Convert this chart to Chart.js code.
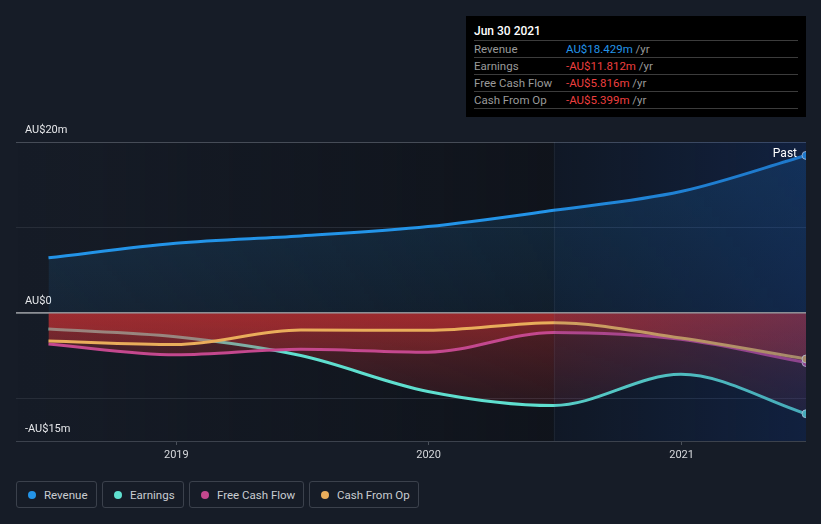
<!DOCTYPE html>
<html>
<head>
<meta charset="utf-8">
<script src="https://cdn.jsdelivr.net/npm/chart.js@4.4.1/dist/chart.umd.min.js"></script>
<style>
html,body{margin:0;padding:0;background:#161c27;width:821px;height:524px;overflow:hidden;font-family:Roboto,"Noto Sans",sans-serif;}
#wrap{position:absolute;left:0;top:0;width:821px;height:470px;}
#tip{position:absolute;left:466px;top:16px;width:340px;height:101px;background:#000;box-sizing:border-box;padding:0 8px;}
#tip .title{height:24px;box-sizing:border-box;padding-top:7px;line-height:16px;font-size:12px;color:#fff;font-weight:500;}
#tip .row{height:17px;box-sizing:border-box;border-top:1px solid #3c3c3c;line-height:16px;font-size:11.5px;display:flex;}
#tip .row:last-child{border-bottom:1px solid #3c3c3c;height:18px;}
#tip .lab{width:92px;color:#9a9a9a;}
#tip .val{white-space:pre;}
#tip .unit{color:#9a9a9a;}
#legend{position:absolute;left:0;top:481px;width:821px;height:27px;}
#legend .item{position:absolute;top:0;height:27px;box-sizing:border-box;border:1px solid #3b414c;border-radius:3px;display:flex;align-items:center;padding:0 0 0 11px;font-size:11.5px;color:#c9ccd1;white-space:nowrap;}
#legend .dot{width:8px;height:8px;border-radius:50%;margin-right:8px;display:inline-block;flex:none;}
</style>
</head>
<body>
<div id="wrap"><canvas id="c"></canvas></div>
<div id="tip"></div>
<div id="legend"></div>
<script>
// ---- data (values in AU$ millions) ----
const periods = ['2018-06-30','2018-12-31','2019-06-30','2019-12-31','2020-06-30','2020-12-31','2021-06-30'];
const revenue      = [6.45, 8.15, 9.0, 10.1, 12.0, 14.2, 18.429];
const earnings     = [-1.9, -2.8, -5.0, -9.2, -10.85, -7.2, -11.812];
const freeCashFlow = [-3.65, -4.9, -4.25, -4.6, -2.3, -3.1, -5.816];
const cashFromOp   = [-3.3, -3.7, -2.0, -2.05, -1.15, -2.95, -5.399];
const seriesNames  = ['Revenue','Earnings','Free Cash Flow','Cash From Op'];
const yTickValues  = [-15, -10, 0, 10, 20];
const yTickLabels  = {'20':'AU$20m','0':'AU$0','-15':'-AU$15m'};
const xTickYears   = ['2019','2020','2021'];
const highlightStart = '2020-06-30';
const tooltipTitle = 'Jun 30 2021';
const pastLabel = 'Past';

// ---- styling ----
const colors = ['#2394e8','#5fdfcf','#c4488e','#e9ad5b'];
const legendBoxes = [[16,81],[102,82],[189,115],[309,110]];
const DAY = 86400000;
const t = s => Date.parse(s + 'T00:00:00Z');
const xs = periods.map(t);
const pts = arr => arr.map((v,i)=>({x:xs[i], y:v}));
const last = xs.length - 1;

function redFill(ctx){
  const ch = ctx.chart; const a = ch.chartArea; if(!a) return 'rgba(0,0,0,0)';
  const y = ch.scales.y;
  const g = ch.ctx.createLinearGradient(0, y.getPixelForValue(0), 0, y.getPixelForValue(-15));
  g.addColorStop(0,'rgba(205,50,52,0.36)');
  g.addColorStop(1,'rgba(205,50,52,0.04)');
  return g;
}
function blueFill(ctx){
  const ch = ctx.chart; const a = ch.chartArea; if(!a) return 'rgba(0,0,0,0)';
  const y = ch.scales.y;
  const g = ch.ctx.createLinearGradient(0, y.getPixelForValue(20), 0, y.getPixelForValue(0));
  g.addColorStop(0,'rgba(35,148,232,0.20)');
  g.addColorStop(1,'rgba(35,148,232,0.08)');
  return g;
}
const endRadius = ctx => ctx.dataIndex === last ? 4 : 0;

function ds(label, data, color, fillFn, order){
  return {label, data: pts(data), borderColor: color, backgroundColor: fillFn, fill: 'origin',
    borderWidth: 3, cubicInterpolationMode: 'monotone', order,
    pointRadius: endRadius, pointHoverRadius: endRadius, pointBackgroundColor: color,
    pointBorderColor: 'rgba(255,255,255,0.75)', pointBorderWidth: 1};
}

const bgPlugin = {
  id: 'bgPlugin',
  beforeDraw(chart){
    const {ctx, chartArea:a, scales:{x}} = chart;
    const hx = x.getPixelForValue(t(highlightStart));
    ctx.save();
    const g = ctx.createLinearGradient(a.left,0,hx,0);
    g.addColorStop(0,'rgba(8,10,14,0.0)');
    g.addColorStop(1,'rgba(8,10,14,0.45)');
    ctx.fillStyle = g; ctx.fillRect(a.left, a.top, hx - a.left, a.bottom - a.top);
    ctx.fillStyle = 'rgba(8,10,14,0.45)'; ctx.fillRect(hx, a.top, a.right - hx, a.bottom - a.top);
    ctx.restore();
  },
  afterDatasetsDraw(chart){
    const {ctx, chartArea:a, scales:{x,y}} = chart;
    const hx = x.getPixelForValue(t(highlightStart));
    ctx.save();
    const g = ctx.createLinearGradient(hx,0,a.right,0);
    g.addColorStop(0,'rgba(20,60,130,0.10)');
    g.addColorStop(1,'rgba(20,60,140,0.32)');
    ctx.fillStyle = g; ctx.fillRect(hx, a.top, a.right - hx, a.bottom - a.top);
    ctx.fillStyle = 'rgba(255,255,255,0.05)'; ctx.fillRect(Math.round(hx), a.top, 1, a.bottom - a.top);
    const zy = y.getPixelForValue(0);
    ctx.strokeStyle = '#8c8f95'; ctx.lineWidth = 1.5;
    ctx.beginPath(); ctx.moveTo(a.left, zy); ctx.lineTo(a.right, zy); ctx.stroke();
    const px = x.getPixelForValue(xs[last]), py = y.getPixelForValue(revenue[last]);
    ctx.font = '12px Roboto, "Noto Sans", sans-serif';
    ctx.fillStyle = '#ffffff'; ctx.textAlign = 'right'; ctx.textBaseline = 'middle';
    ctx.fillText(pastLabel, px - 9, py - 1);
    ctx.restore();
  }
};

Chart.defaults.font.family = 'Roboto, "Noto Sans", sans-serif';

new Chart(document.getElementById('c'), {
  type: 'line',
  data: { datasets: [
    ds(seriesNames[0], revenue, colors[0], blueFill, 0),
    ds(seriesNames[1], earnings, colors[1], redFill, 3),
    ds(seriesNames[2], freeCashFlow, colors[2], redFill, 2),
    ds(seriesNames[3], cashFromOp, colors[3], redFill, 1)
  ]},
  options: {
    responsive: true, maintainAspectRatio: false, animation: false, devicePixelRatio: 1,
    layout: { padding: { left: 16, right: 15, top: 142, bottom: 0 } },
    plugins: { legend: { display: false }, tooltip: { enabled: false }, filler: { drawTime: 'beforeDatasetDraw' } },
    events: [],
    scales: {
      x: {
        type: 'linear', min: xs[0] - 47*DAY, max: xs[last],
        afterBuildTicks: s => { s.ticks = xTickYears.map(yy => ({value: Date.UTC(+yy,0,1)})); },
        afterFit: s => { s.height = 29; },
        ticks: { autoSkip: false, maxRotation: 0, color: '#d6d8dc', font: { size: 11 }, padding: 4,
          callback: v => String(new Date(v).getUTCFullYear()) },
        grid: { drawOnChartArea: false, drawTicks: true, tickLength: 4, color: '#4a505a' },
        border: { display: false }
      },
      y: {
        min: -15, max: 20,
        afterBuildTicks: s => { s.ticks = yTickValues.map(v => ({value: v})); },
        afterFit: s => { s.width = 0; },
        ticks: { mirror: true, padding: 9, labelOffset: -12, autoSkip: false, color: '#e6e7ea', font: { size: 11 },
          callback: v => yTickLabels[String(v)] || '' },
        grid: { drawTicks: false,
          color: c => c.tick.value === 0 ? '#8c8f95' : (c.tick.value === 20 ? '#464c57' : (c.tick.value === -15 ? '#3c424d' : '#272d38')),
          lineWidth: c => c.tick.value === 0 ? 1.5 : 1 },
        border: { display: false }
      }
    }
  },
  plugins: [bgPlugin]
});

// ---- tooltip box ----
const fmt = v => (v < 0 ? '-' : '') + 'AU$' + Math.abs(v).toFixed(3) + 'm';
const lastVals = [revenue[last], earnings[last], freeCashFlow[last], cashFromOp[last]];
let html = '<div class="title">' + tooltipTitle + '</div>';
seriesNames.forEach((n,i) => {
  const v = lastVals[i];
  html += '<div class="row"><span class="lab">' + n + '</span><span class="val" style="color:' + (v < 0 ? '#ee3f3f' : '#2394e8') + '">' + fmt(v) + '</span><span class="unit">&nbsp;/yr</span></div>';
});
document.getElementById('tip').innerHTML = html;

// ---- legend ----
document.getElementById('legend').innerHTML = seriesNames.map((n,i) =>
  '<div class="item" style="left:' + legendBoxes[i][0] + 'px;width:' + legendBoxes[i][1] + 'px"><span class="dot" style="background:' + colors[i] + '"></span>' + n + '</div>').join('');
</script>
</body>
</html>
